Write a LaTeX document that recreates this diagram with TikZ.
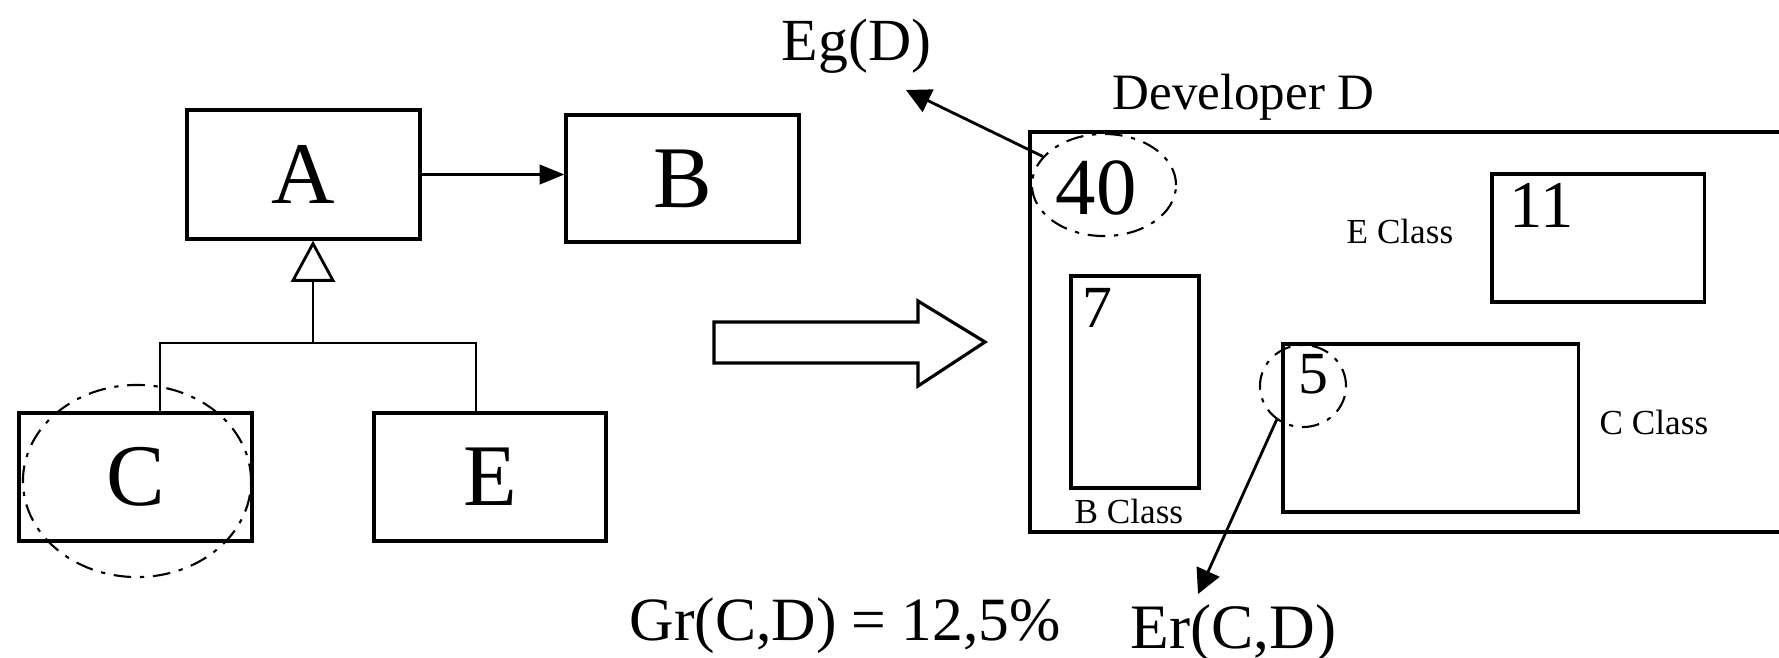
\documentclass[tikz,border=0pt]{standalone}
\usepackage{fontspec}
\setmainfont{Liberation Serif}
\usetikzlibrary{arrows.meta,shapes.geometric}
\begin{document}
\begin{tikzpicture}[x=0.01cm,y=-0.01cm,
  box/.style={draw,line width=0.9pt,inner sep=0pt},
  big/.style={font=\fontsize{25}{30}\selectfont},
  lab/.style={inner sep=0pt,anchor=base west},
  small/.style={font=\fontsize{10}{12}\selectfont},
  mid/.style={font=\fontsize{17}{20}\selectfont},
  dd/.style={line width=0.6pt,dash pattern=on 5pt off 2.5pt on 1.2pt off 2.5pt},
  conn/.style={line width=0.8pt},
  oval/.style={dd,ellipse,inner sep=0pt},
]
\useasboundingbox (0,0) rectangle (1779,657);
% left UML part
\node[box,big,minimum width=2.33cm,minimum height=1.29cm] (A) at (303.5,174.5) {A};
\node[box,big,minimum width=2.33cm,minimum height=1.27cm] (B) at (682.5,178.5) {B};
\node[box,big,minimum width=2.33cm,minimum height=1.28cm] (C) at (135.5,477) {C};
\node[box,big,minimum width=2.32cm,minimum height=1.28cm] (E) at (490,477) {E};
\draw[conn,-{Triangle[length=7pt,width=5.5pt]}] (A.east) -- (A.east -| B.west);
\coordinate (J) at (313,343);
\coordinate (JC) at (160,343);
\coordinate (JE) at (476,343);
\draw[conn,-{Triangle[open,length=11.7pt,width=12.5pt,fill=white]}] (J) -- (J |- A.south);
\draw[conn] (JC |- C.north) -- (JC) -- (JE) -- (JE |- E.north);
\node[oval,draw,minimum width=2.28cm,minimum height=1.92cm] (eC) at (137,481) {};
% hollow arrow
\draw[line width=0.9pt] (714,322) -- (918,322) -- (918,301) -- (985,342) -- (918,386) -- (918,363) -- (714,363) -- cycle;
% developer box
\coordinate (DTL) at (1030,132);
\coordinate (DBL) at (1030,532);
\draw[line width=0.9pt] (DTL -| 1779,0) -- (DTL) -- (DBL) -- (DBL -| 1779,0);
\node[lab,font=\fontsize{14.5}{17}\selectfont] (dev) at (1112,109) {Developer D};
\node[oval,draw,minimum width=1.44cm,minimum height=1.02cm] (e40) at (1104,185) {};
\node[lab,font=\fontsize{23}{27}\selectfont] (n40) at (1055,214) {40};
\node[box,minimum width=2.12cm,minimum height=1.28cm] (b11) at (1598,238) {};
\node[lab,font=\fontsize{19}{22}\selectfont] (n11) at (1509,227) {11};
\node[lab,small] (ecl) at (1346,243) {E Class};
\node[box,minimum width=1.28cm,minimum height=2.12cm] (b7) at (1135,382) {};
\node[lab,mid] (n7) at (1082,327) {7};
\node[lab,small] (bcl) at (1074,523) {B Class};
\node[box,minimum width=2.95cm,minimum height=1.68cm] (b5) at (1430.5,428) {};
\node[lab,mid] (n5) at (1298,393) {5};
\node[oval,draw,minimum width=0.86cm,minimum height=0.82cm] (e5) at (1303,386) {};
\node[lab,small] (ccl) at (1599,434) {C Class};
% labels and arrows
\node[lab,mid] (eg) at (781,60) {Eg(D)};
\coordinate (egtip) at (906,90);
\draw[conn,-{Triangle[length=7pt,width=7pt]}] (e40.155) -- (egtip);
\node[lab,font=\fontsize{17.5}{21}\selectfont] (gr) at (629,640) {Gr(C,D) = 12,5\%};
\node[lab,font=\fontsize{18}{21}\selectfont] (er) at (1130,648) {Er(C,D)};
\coordinate (ertip) at (1198,594);
\draw[conn,-{Triangle[length=7pt,width=7pt]}] (e5.232) -- (ertip);
\end{tikzpicture}
\end{document}
